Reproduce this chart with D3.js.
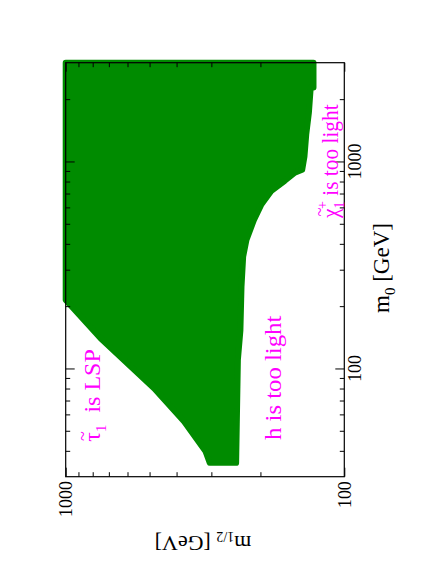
<!DOCTYPE html>
<html>
<head>
<meta charset="utf-8">
<script src="https://d3js.org/d3.v7.min.js"></script>
<style>
  html, body { margin: 0; padding: 0; background: #fff; }
  svg { display: block; }
  text { font-family: "Liberation Serif", "DejaVu Serif", serif; white-space: pre; }
</style>
</head>
<body>
<svg id="chart" width="436" height="564"></svg>
<script>
// Allowed region boundary (m1/2, m0) in GeV, traced clockwise from the top-left corner
const boundaryM12 = [1000, 129, 129, 132, 134, 137, 139, 141.6, 150.5, 163.5, 182.6, 198.4, 211, 224.5, 230.7, 233.9, 236, 241, 244.5, 304, 315, 376, 482, 750, 1000];
const boundaryM0 = [3000, 3000, 2274, 2274, 1720, 1346, 1057, 912, 883, 807, 722, 620, 522, 418, 347, 248, 153, 110, 35, 35, 39.8, 55.4, 80.3, 140, 214];

// Tick values
const m0Major = [100, 1000];
const m0Minor = [40, 50, 60, 70, 80, 90, 200, 300, 400, 500, 600, 700, 800, 900, 2000];
const m12Major = [100, 1000];
const m12Minor = [200, 300, 400, 500, 600, 700, 800, 900];
const m0Labels = ['100', '1000'];
const m12Labels = ['100', '1000'];

// Colors
const colors = {
  allowed: '#008b00',
  note: '#ff00ff',
  frame: '#000'
};

// Plot frame
const frameLeft = 65.7, frameRight = 344.3, frameTop = 62.7, frameBottom = 476.7;

const x = d3.scaleLog().domain([1000, 100]).range([frameLeft, frameRight]);
const y = d3.scaleLog().domain([30, 3000]).range([frameBottom, frameTop]);

const svg = d3.select('#chart');

// Allowed region
const region = boundaryM12.map((m12, i) => [m12, boundaryM0[i]]);
const line = d3.line().x(d => x(d[0])).y(d => y(d[1])).curve(d3.curveLinearClosed);

svg.append('path')
  .attr('d', line(region))
  .attr('fill', colors.allowed)
  .attr('stroke', colors.allowed)
  .attr('stroke-width', 6)
  .attr('stroke-linejoin', 'round');

// Ticks on all four sides, pointing inward
function ticks(axis, values, size, transform) {
  const g = svg.append('g')
    .attr('transform', transform)
    .call(axis.tickValues(values).tickSize(size).tickFormat(''));
  g.select('.domain').remove();
  g.selectAll('line').attr('stroke', colors.frame).attr('stroke-width', 1);
}

ticks(d3.axisRight(y), m0Minor, 4.5, `translate(${frameLeft},0)`);
ticks(d3.axisRight(y), m0Major, 9, `translate(${frameLeft},0)`);
ticks(d3.axisLeft(y), m0Minor, 4.5, `translate(${frameRight},0)`);
ticks(d3.axisLeft(y), m0Major, 9, `translate(${frameRight},0)`);
ticks(d3.axisTop(x), m12Minor, 4.5, `translate(0,${frameBottom})`);
ticks(d3.axisTop(x), m12Major, 9, `translate(0,${frameBottom})`);
ticks(d3.axisBottom(x), m12Minor, 4.5, `translate(0,${frameTop})`);
ticks(d3.axisBottom(x), m12Major, 9, `translate(0,${frameTop})`);

svg.append('rect')
  .attr('x', frameLeft)
  .attr('y', frameTop)
  .attr('width', frameRight - frameLeft)
  .attr('height', frameBottom - frameTop)
  .attr('fill', 'none')
  .attr('stroke', colors.frame)
  .attr('stroke-width', 1.2);

// Tick labels (rotated like the page)
m12Major.forEach((v, i) => {
  svg.append('text')
    .attr('transform', `translate(${x(v) + 6.5},${frameBottom + 4.5}) rotate(-90) scale(0.94,1)`)
    .attr('text-anchor', 'end')
    .attr('font-size', 19)
    .text(m12Labels[i]);
});

m0Major.forEach((v, i) => {
  svg.append('text')
    .attr('transform', `translate(${frameRight + 17},${y(v)}) rotate(-90) scale(0.94,1)`)
    .attr('text-anchor', 'middle')
    .attr('font-size', 19)
    .text(m0Labels[i]);
});

// Axis titles
const t0 = svg.append('text')
  .attr('transform', 'translate(389,268) rotate(-90)')
  .attr('text-anchor', 'middle')
  .attr('font-size', 23);
t0.append('tspan').text('m');
t0.append('tspan').attr('font-size', 15).attr('dy', 6).text('0');
t0.append('tspan').attr('dy', -6).text(' [GeV]');

const t12 = svg.append('text')
  .attr('transform', 'translate(203,536) rotate(180)')
  .attr('text-anchor', 'middle')
  .attr('font-size', 22);
t12.append('tspan').text('m');
t12.append('tspan').attr('font-size', 14).attr('dy', 4).text('1/2');
t12.append('tspan').attr('dy', -4).text(' [GeV]');

// Region annotations
const tauPos = 'translate(100,441.7) rotate(-90)';
const tau = svg.append('text')
  .attr('transform', tauPos)
  .attr('fill', colors.note)
  .attr('font-size', 24);
tau.append('tspan').text('\u03c4');
tau.append('tspan').attr('font-size', 15).attr('dy', 6).text('1');
tau.append('tspan').attr('dy', -6).text('  is LSP');
svg.append('text')
  .attr('transform', tauPos)
  .attr('x', 5.5).attr('y', -11)
  .attr('text-anchor', 'middle')
  .attr('fill', colors.note)
  .attr('font-size', 18)
  .text('~');

svg.append('text')
  .attr('transform', 'translate(280.5,440) rotate(-90) scale(1.03,1)')
  .attr('fill', colors.note)
  .attr('font-size', 24)
  .text('h is too light');

const chiPos = 'translate(337.5,218) rotate(-90) scale(0.93,1)';
const chi = svg.append('text')
  .attr('transform', chiPos)
  .attr('fill', colors.note)
  .attr('font-size', 23);
chi.append('tspan').text('\u03c7');
chi.append('tspan').attr('font-size', 15).attr('dy', 6).text('1');
chi.append('tspan').attr('font-size', 15).attr('dx', -8).attr('dy', -17).text('+');
chi.append('tspan').attr('dy', 11).text(' is too light');
svg.append('text')
  .attr('transform', chiPos)
  .attr('x', 6.5).attr('y', -12)
  .attr('text-anchor', 'middle')
  .attr('fill', colors.note)
  .attr('font-size', 18)
  .text('~');
</script>
</body>
</html>
